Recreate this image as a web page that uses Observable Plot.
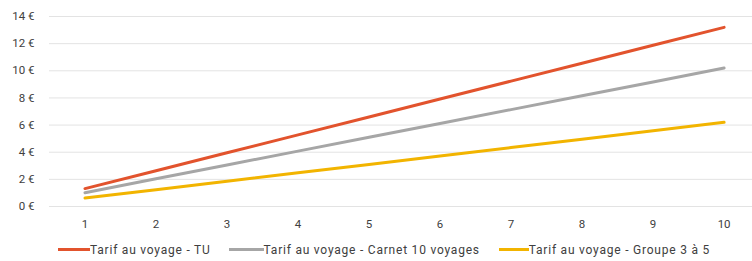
<!DOCTYPE html>
<html>
<head>
<meta charset="utf-8">
<script src="https://cdn.jsdelivr.net/npm/d3@7"></script>
<script src="https://cdn.jsdelivr.net/npm/@observablehq/plot@0.6"></script>
<style>
  html, body { margin: 0; padding: 0; background: #fff; }
  #chart { width: 752px; }
  .legend { display: flex; align-items: center; height: 27px; margin-top: 2px; font-family: Roboto, sans-serif; font-size: 12px; letter-spacing: 0.78px; color: #404040; padding-left: 58px; }
  .legend .item { display: flex; align-items: center; }
  .legend .sw { display: inline-block; height: 3px; }
</style>
</head>
<body>
<div id="chart"></div>
<script>
const trips = [1, 2, 3, 4, 5, 6, 7, 8, 9, 10];
const tarifTU = [1.32, 2.64, 3.96, 5.28, 6.60, 7.92, 9.24, 10.56, 11.88, 13.20];
const tarifCarnet = [1.02, 2.04, 3.06, 4.08, 5.10, 6.12, 7.14, 8.16, 9.18, 10.20];
const tarifGroupe = [0.62, 1.24, 1.86, 2.48, 3.10, 3.72, 4.34, 4.96, 5.58, 6.20];
const seriesNames = ["Tarif au voyage - TU", "Tarif au voyage - Carnet 10 voyages", "Tarif au voyage - Groupe 3 à 5"];
const seriesColors = ["#E2532D", "#A6A6A6", "#F2B400"];
const yTicks = [0, 2, 4, 6, 8, 10, 12, 14];

const seriesValues = [tarifTU, tarifCarnet, tarifGroupe];
const data = seriesValues.flatMap((vals, s) => trips.map((t, i) => ({trip: t, value: vals[i], series: seriesNames[s]})));

const plot = Plot.plot({
  width: 752,
  height: 234,
  marginTop: 16,
  marginBottom: 28,
  marginLeft: 49,
  marginRight: 0,
  style: {fontFamily: "Roboto, sans-serif", fontSize: "11.5px", color: "#404040", background: "#fff"},
  x: {domain: [0.5, 10.4], ticks: trips, tickSize: 0, tickPadding: 13, label: null, tickFormat: d => String(d)},
  y: {domain: [0, 14], ticks: yTicks, tickSize: 0, tickPadding: 15, label: null, tickFormat: d => d + " €"},
  color: {domain: seriesNames, range: seriesColors},
  marks: [
    Plot.gridY(yTicks, {stroke: "#e3e3e3", strokeOpacity: 1, strokeWidth: 1}),
    Plot.axisX({ticks: trips, tickSize: 0, tickPadding: 13, tickFormat: d => String(d), label: null}),
    Plot.axisY({ticks: yTicks, tickSize: 0, tickPadding: 15, tickFormat: d => d + " €", label: null}),
    Plot.line(data, {x: "trip", y: "value", z: "series", stroke: "series", strokeWidth: 3})
  ]
});
document.getElementById("chart").appendChild(plot);

const legend = document.createElement("div");
legend.className = "legend";
const swWidths = [32, 35, 30];
const gaps = [18, 19, 0];
seriesNames.forEach((name, i) => {
  const item = document.createElement("span");
  item.className = "item";
  item.style.marginRight = gaps[i] + "px";
  const sw = document.createElement("span");
  sw.className = "sw";
  sw.style.width = swWidths[i] + "px";
  sw.style.background = seriesColors[i];
  const tx = document.createElement("span");
  tx.textContent = name;
  item.appendChild(sw);
  item.appendChild(tx);
  legend.appendChild(item);
});
document.getElementById("chart").appendChild(legend);
</script>
</body>
</html>
